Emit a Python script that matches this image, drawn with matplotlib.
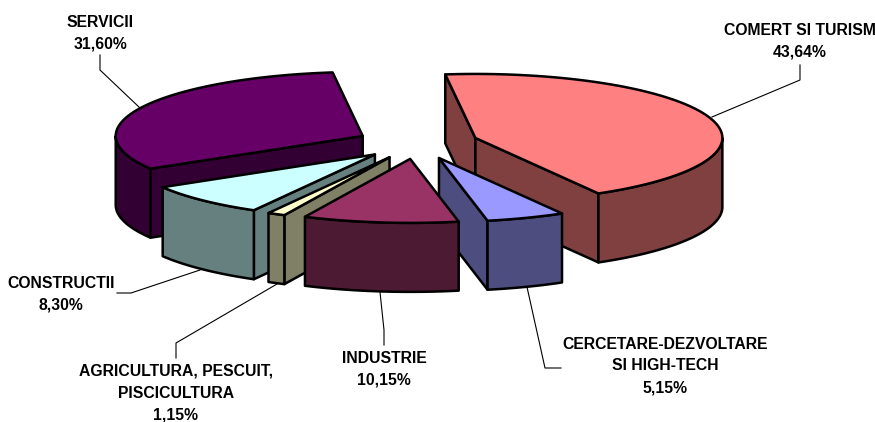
"""Exploded 3D-style pie of activity sectors, drawn on a pixel-sized axes."""

import matplotlib

matplotlib.use("Agg")
import matplotlib.pyplot as plt
import numpy as np
from matplotlib.patches import Polygon

# clockwise order, starting from the back of the pie
labels = [
    "COMERT SI TURISM\n43,64%",
    "CERCETARE-DEZVOLTARE\nSI HIGH-TECH\n5,15%",
    "INDUSTRIE\n10,15%",
    "AGRICULTURA, PESCUIT,\nPISCICULTURA\n1,15%",
    "CONSTRUCTII\n8,30%",
    "SERVICII\n31,60%",
]
values = [43.64, 5.15, 10.15, 1.15, 8.30, 31.60]
top_colors = ["#FF8080", "#9999FF", "#993366", "#FFFFCC", "#CCFFFF", "#660066"]
side_colors = ["#804040", "#4D4D80", "#4D1A33", "#808066", "#668080", "#330033"]

# pie geometry in pixels
CX, CY = 417.5, 143
RX, RY = 247, 64
EX, EY = 61, 16
DEPTH = 69
START = -7.0
LW = 1.8

# back slices first, so the front ones overlap them
draw_order = [5, 0, 4, 3, 1, 2]

# leader lines and label anchors (x, y of the text block centre)
leaders = [
    [(712, 117), (800, 80), (800, 65)],
    [(527, 287), (545, 368), (561, 368)],
    [(380, 292), (384, 330), (384, 345)],
    [(277, 284), (176, 343), (176, 358)],
    [(200, 270), (131, 293), (117, 293)],
    [(140, 108), (100, 70), (100, 55)],
]
label_pos = [(800, 41), (665, 366), (384, 369), (176, 393), (61, 294), (100, 33)]


def point(theta, apex):
    t = np.radians(theta)
    return apex[0] + RX * np.sin(t), apex[1] - RY * np.cos(t)


def arc(a, b, apex, dy=0.0):
    ts = np.radians(np.linspace(a, b, max(int(abs(b - a)), 2) + 1))
    return np.column_stack([apex[0] + RX * np.sin(ts), apex[1] - RY * np.cos(ts) + dy])


def add_poly(ax, pts, color, z):
    ax.add_patch(
        Polygon(pts, closed=True, facecolor=color, edgecolor="black", linewidth=LW, joinstyle="round", zorder=z)
    )


def draw_slice(ax, a, b, top, side, z):
    mid = np.radians((a + b) / 2)
    apex = (CX + EX * np.sin(mid), CY - EY * np.cos(mid))

    # radial cut faces, only when they look towards the viewer
    if np.sin(np.radians(a)) < 0:
        p = point(a, apex)
        add_poly(ax, [apex, p, (p[0], p[1] + DEPTH), (apex[0], apex[1] + DEPTH)], side, z)
    if np.sin(np.radians(b)) > 0:
        p = point(b, apex)
        add_poly(ax, [apex, p, (p[0], p[1] + DEPTH), (apex[0], apex[1] + DEPTH)], side, z)

    # outer rim, front half of the ellipse only
    lo, hi = max(a, 90), min(b, 270)
    if lo < hi:
        add_poly(ax, np.vstack([arc(lo, hi, apex), arc(hi, lo, apex, DEPTH)]), side, z)

    add_poly(ax, np.vstack([[apex], arc(a, b, apex)]), top, z)


def main():
    fig = plt.figure(figsize=(8.75, 4.22), dpi=100)
    ax = fig.add_axes([0, 0, 1, 1])
    ax.set_xlim(0, 875)
    ax.set_ylim(422, 0)
    ax.axis("off")

    total = sum(values)
    edges = START + np.concatenate([[0], np.cumsum(values)]) / total * 360

    for z, i in enumerate(draw_order):
        draw_slice(ax, edges[i], edges[i + 1], top_colors[i], side_colors[i], z + 2)

    for line in leaders:
        xs, ys = zip(*line)
        ax.plot(xs, ys, color="black", linewidth=0.8, zorder=1)

    for text, (x, y) in zip(labels, label_pos):
        ax.text(
            x, y, text, ha="center", va="center", fontsize=11.3, fontweight="bold",
            family="Liberation Sans", linespacing=1.55, color="black",
        )

    fig.savefig("out.png", dpi=100)


if __name__ == "__main__":
    main()
